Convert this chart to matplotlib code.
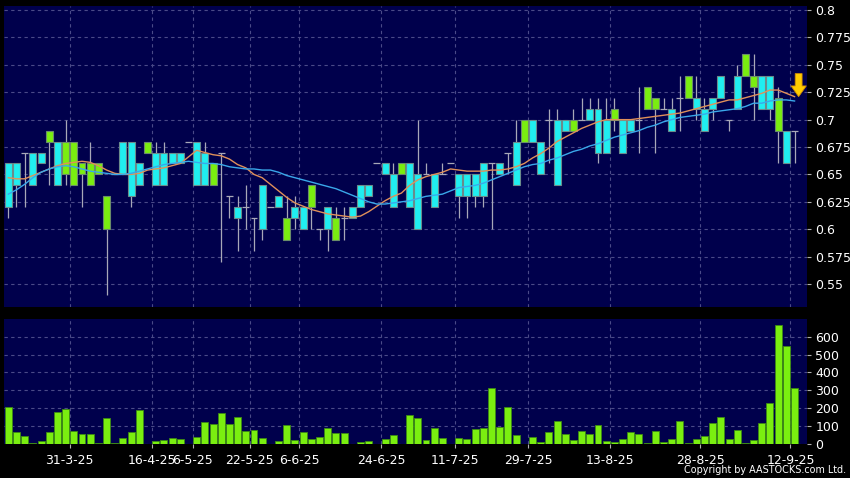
import numpy as np
import matplotlib.pyplot as plt

# daily prices (HKD)
opens = [.62, .64, .67, .64, .66, .69, .64, .68, .68, .66,
         .66, .66, .63, .65, .65, .63, .64, .68, .64, .64,
         .66, .66, .68, .64, .64, .66, .67, .63, .61, .62,
         .61, .60, .62, .62, .61, .61, .60, .64, .60, .60,
         .61, .61, .61, .62, .63, .66, .65, .62, .66, .62,
         .60, .65, .62, .65, .66, .63, .63, .63, .63, .66,
         .65, .67, .64, .70, .68, .65, .70, .64, .69, .70,
         .70, .70, .67, .67, .71, .67, .69, .70, .73, .72,
         .71, .69, .72, .74, .71, .69, .71, .72, .70, .71,
         .76, .74, .71, .71, .72, .66, .69]
highs = [.66, .66, .67, .67, .67, .69, .68, .70, .68, .66,
         .68, .66, .63, .65, .68, .68, .66, .68, .68, .68,
         .67, .67, .68, .68, .68, .66, .67, .63, .63, .64,
         .61, .64, .62, .63, .63, .63, .62, .64, .60, .62,
         .62, .62, .62, .64, .64, .66, .66, .66, .66, .66,
         .70, .66, .65, .66, .66, .65, .65, .65, .66, .66,
         .66, .67, .70, .70, .70, .68, .71, .71, .70, .71,
         .72, .72, .72, .72, .72, .70, .70, .73, .73, .72,
         .72, .72, .74, .74, .74, .72, .72, .74, .70, .75,
         .76, .76, .74, .74, .73, .69, .69]
lows = [.61, .62, .62, .64, .66, .64, .64, .64, .64, .62,
        .64, .65, .54, .65, .65, .62, .64, .67, .64, .64,
        .66, .66, .68, .64, .64, .64, .57, .61, .58, .60,
        .58, .59, .62, .62, .59, .60, .60, .60, .59, .58,
        .59, .59, .61, .62, .63, .66, .65, .62, .65, .62,
        .60, .65, .62, .65, .66, .61, .61, .62, .62, .60,
        .65, .65, .64, .68, .68, .65, .66, .64, .69, .69,
        .70, .70, .66, .67, .69, .67, .69, .67, .71, .67,
        .71, .69, .69, .72, .70, .69, .70, .72, .69, .71,
        .74, .70, .71, .70, .66, .66, .66]
closes = [.66, .66, .67, .67, .67, .68, .68, .65, .64, .65,
          .64, .65, .60, .65, .68, .68, .66, .67, .67, .67,
          .67, .67, .68, .68, .67, .64, .67, .63, .62, .62,
          .61, .64, .62, .63, .59, .62, .62, .62, .60, .62,
          .59, .61, .62, .64, .64, .66, .66, .65, .65, .66,
          .65, .65, .65, .65, .66, .65, .65, .65, .66, .66,
          .66, .67, .68, .68, .70, .68, .70, .70, .70, .69,
          .70, .71, .71, .70, .70, .70, .70, .70, .71, .71,
          .71, .71, .72, .72, .72, .71, .72, .74, .70, .74,
          .74, .73, .74, .74, .69, .69, .69]

# volume ('000 shares)
volumes = [205, 65, 47, 4, 19, 65, 181, 196, 73, 58,
           58, 4, 145, 3, 32, 65, 190, 2, 17, 22,
           34, 26, 0, 37, 121, 110, 173, 114, 149, 73,
           80, 34, 0, 19, 104, 20, 65, 28, 37, 88,
           60, 61, 2, 9, 19, 2, 28, 48, 1, 162,
           147, 22, 88, 32, 0, 35, 26, 82, 88, 311,
           93, 205, 50, 1, 37, 13, 67, 128, 56, 20,
           73, 58, 104, 15, 11, 26, 67, 56, 7, 73,
           13, 28, 130, 4, 28, 43, 115, 153, 26, 76,
           4, 24, 117, 229, 663, 546, 311]

# moving averages as drawn on the chart
ma_short = [0.647, 0.646, 0.646, 0.649, 0.652, 0.655, 0.658, 0.660, 0.661, 0.662,
            0.661, 0.658, 0.654, 0.651, 0.650, 0.650, 0.651, 0.654, 0.655, 0.656,
            0.658, 0.660, 0.666, 0.672, 0.670, 0.668, 0.667, 0.664, 0.659, 0.656,
            0.650, 0.647, 0.641, 0.635, 0.629, 0.624, 0.621, 0.618, 0.616, 0.614,
            0.613, 0.612, 0.611, 0.612, 0.616, 0.621, 0.626, 0.630, 0.633, 0.640,
            0.645, 0.648, 0.650, 0.652, 0.655, 0.654, 0.653, 0.653, 0.653, 0.654,
            0.654, 0.655, 0.657, 0.660, 0.665, 0.669, 0.674, 0.680, 0.684, 0.688,
            0.692, 0.695, 0.698, 0.700, 0.700, 0.700, 0.700, 0.701, 0.702, 0.703,
            0.704, 0.705, 0.706, 0.708, 0.710, 0.712, 0.714, 0.716, 0.718, 0.718,
            0.720, 0.722, 0.724, 0.727, 0.727, 0.724, 0.721]
ma_long = [0.632, 0.636, 0.641, 0.647, 0.652, 0.655, 0.657, 0.658, 0.657, 0.655,
           0.653, 0.652, 0.651, 0.650, 0.650, 0.651, 0.653, 0.655, 0.657, 0.659,
           0.660, 0.661, 0.662, 0.661, 0.660, 0.660, 0.659, 0.657, 0.656, 0.655,
           0.655, 0.654, 0.654, 0.652, 0.649, 0.647, 0.645, 0.643, 0.641, 0.639,
           0.637, 0.634, 0.631, 0.628, 0.625, 0.623, 0.623, 0.624, 0.625, 0.626,
           0.628, 0.630, 0.631, 0.632, 0.635, 0.638, 0.639, 0.640, 0.642, 0.645,
           0.648, 0.651, 0.654, 0.657, 0.659, 0.660, 0.663, 0.665, 0.668, 0.671,
           0.673, 0.676, 0.678, 0.681, 0.684, 0.686, 0.688, 0.690, 0.693, 0.695,
           0.698, 0.700, 0.702, 0.703, 0.704, 0.705, 0.707, 0.708, 0.709, 0.710,
           0.712, 0.715, 0.715, 0.717, 0.718, 0.718, 0.717]

date_labels = ['31-3-25', '16-4-25', '6-5-25', '22-5-25', '6-6-25', '24-6-25',
               '11-7-25', '29-7-25', '13-8-25', '28-8-25', '12-9-25']
date_index = [7, 17, 22, 29, 35, 45, 54, 63, 73, 84, 95]
price_ticks = [0.55, 0.575, 0.6, 0.625, 0.65, 0.675, 0.7, 0.725, 0.75, 0.775, 0.8]
vol_ticks = [0, 100, 200, 300, 400, 500, 600]

navy = '#00004c'
grid_col = '#4a4a88'
cyan = '#20eef0'
green = '#7aee10'
wick = '#a8a8b8'

fig = plt.figure(figsize=(8.5, 4.78), dpi=100, facecolor='black')
ax = fig.add_axes([4 / 850, 1 - 306.7 / 478, 803 / 850, 300.7 / 478])
axv = fig.add_axes([4 / 850, 1 - 444 / 478, 803 / 850, 124.7 / 478])

for a in (ax, axv):
    a.set_facecolor(navy)
    for s in a.spines.values():
        s.set_visible(False)
    a.set_xlim(-0.525, 97.52)
    a.yaxis.tick_right()
    a.tick_params(axis='y', colors='#b0b0b0', labelcolor='white', labelsize=9, length=3, pad=3)
    a.set_xticks([i + 0.5 for i in date_index])
    a.grid(True, color=grid_col, linestyle=(0, (3, 3)), linewidth=0.8)
    a.set_axisbelow(True)

ax.tick_params(axis='x', length=0, labelbottom=False)
axv.tick_params(axis='x', colors='#b0b0b0', labelcolor='white', labelsize=9, length=3, pad=4)
axv.set_xticklabels(date_labels)

# price panel
x = np.arange(len(closes))
o = np.array(opens)
h = np.array(highs)
l = np.array(lows)
c = np.array(closes)
up = c > o
dn = c < o
flat = c == o

ax.vlines(x, l, h, color=wick, lw=0.9, zorder=2)
ax.bar(x[up], (c - o)[up], bottom=o[up], width=0.85, color=cyan,
       edgecolor='#6a8c8c', linewidth=0.8, zorder=3)
ax.bar(x[dn], (o - c)[dn], bottom=c[dn], width=0.85, color=green,
       edgecolor='#6a8c6a', linewidth=0.8, zorder=3)
ax.hlines(c[flat], x[flat] - 0.42, x[flat] + 0.42, color=wick, lw=0.9, zorder=3)

ax.plot(x, ma_short, color='#e0905a', lw=1.0, zorder=4)
ax.plot(x, ma_long, color='#3aa8ea', lw=1.0, zorder=4)

ax.annotate('', xy=(x[-1] + 0.5, ma_short[-1]), xytext=(x[-1] + 0.5, ma_short[-1] + 0.021),
            arrowprops=dict(arrowstyle='simple,head_length=0.7,head_width=1.0,tail_width=0.45',
                            fc='#ffcc00', ec='#d08a00', lw=0.6, mutation_scale=11,
                            shrinkA=0, shrinkB=0), zorder=6)

ax.set_ylim(0.5293, 0.8037)
ax.set_yticks(price_ticks)
ax.set_yticklabels(['%g' % t for t in price_ticks])

# volume panel
axv.bar(x, volumes, width=0.85, color=green, edgecolor='#3c8a14', linewidth=0.6, zorder=3)
axv.set_ylim(0, 697)
axv.set_yticks(vol_ticks)
axv.set_yticklabels([str(t) for t in vol_ticks])

fig.text(846 / 850, 1 - 470 / 478, 'Copyright by AASTOCKS.com Ltd.', color='white',
         fontsize=6.9, ha='right', va='center')

fig.savefig('out.png', dpi=100, facecolor='black')
